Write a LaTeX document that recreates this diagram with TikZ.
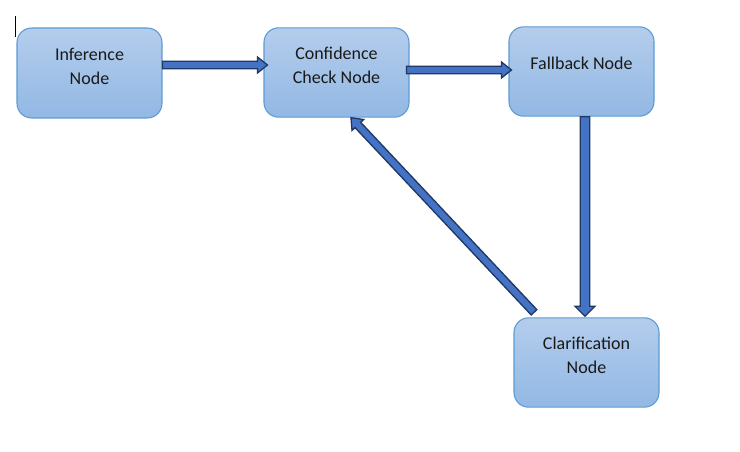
\documentclass[tikz,border=0pt]{standalone}
\usepackage{fontspec}
\setmainfont{Carlito}
\usetikzlibrary{calc}
\definecolor{boxtop}{RGB}{180,205,236}
\definecolor{boxbot}{RGB}{146,184,228}
\definecolor{boxline}{RGB}{91,155,213}
\definecolor{arrfill}{RGB}{68,114,196}
\definecolor{arrline}{RGB}{32,56,100}
\definecolor{txt}{RGB}{25,25,25}
\tikzset{
  box/.style={draw=boxline, line width=0.8pt, rounded corners=11pt,
    top color=boxtop, bottom color=boxbot, minimum width=108.75pt, minimum height=67pt, inner sep=0pt},
  lbl/.style={align=center, text=txt, font=\fontsize{13.5}{18}\selectfont, inner sep=0pt},
  blockarr/.style={fill=arrfill, draw=arrline, line width=1pt, line join=miter},
}
\newcommand\blockarrow[5]{%
  \coordinate (bah) at ($(#2)!#5!(#1)$);
  \draw[blockarr] ($(#1)!#3!90:(#2)$) -- ($(bah)!#3!90:(#2)$) -- ($(bah)!#4!90:(#2)$) -- (#2)
    -- ($(bah)!#4!-90:(#2)$) -- ($(bah)!#3!-90:(#2)$) -- ($(#1)!#3!-90:(#2)$) -- cycle;
}
\begin{document}
\begin{tikzpicture}[x=0.75pt, y=-0.75pt]
\useasboundingbox[fill=white] (0,0) rectangle (740,452);
% cursor mark
\draw[line width=0.7pt] (15,16) coordinate (cur1) -- (15,37) coordinate (cur2);
% nodes
\node[box, minimum height=67.5pt] (inf) at (89.5,73) {};
\node[box] (conf) at (336.5,72.5) {};
\node[box] (fall) at (581.5,71.5) {};
\node[box] (clar) at (586.5,362.5) {};
\node[lbl] (infl) at ($(inf.center)+(0,-7)$) {Inference\\Node};
\node[lbl] (confl) at ($(conf.center)+(0,-7)$) {Confidence\\Check Node};
\node[lbl] (falll) at ($(fall.center)+(0,-8)$) {Fallback Node};
\node[lbl] (clarl) at ($(clar.center)+(0,-7)$) {Clarification\\Node};
% arrow endpoints
\coordinate (a1s) at ($(inf.east)+(0,-8)$);
\coordinate (a1t) at ($(conf.west)+(4,-7.5)$);
\coordinate (a2s) at ($(conf.east)+(-3,-2.5)$);
\coordinate (a2t) at ($(fall.west)+(3,-1.5)$);
\coordinate (a3s) at ($(fall.south)+(3.5,0)$);
\coordinate (a3t) at ($(clar.north)+(-1.5,-1)$);
\coordinate (a4s) at ($(clar.north)+(-52.5,-5)$);
\coordinate (a4t) at ($(conf.south)+(14.5,0)$);
% arrows
\blockarrow{a1s}{a1t}{2.8pt}{6pt}{7.5pt}
\blockarrow{a2s}{a2t}{2.8pt}{6pt}{7.5pt}
\blockarrow{a3s}{a3t}{3.6pt}{7.5pt}{7.5pt}
\blockarrow{a4s}{a4t}{2.9pt}{6pt}{7.5pt}
\end{tikzpicture}
\end{document}
